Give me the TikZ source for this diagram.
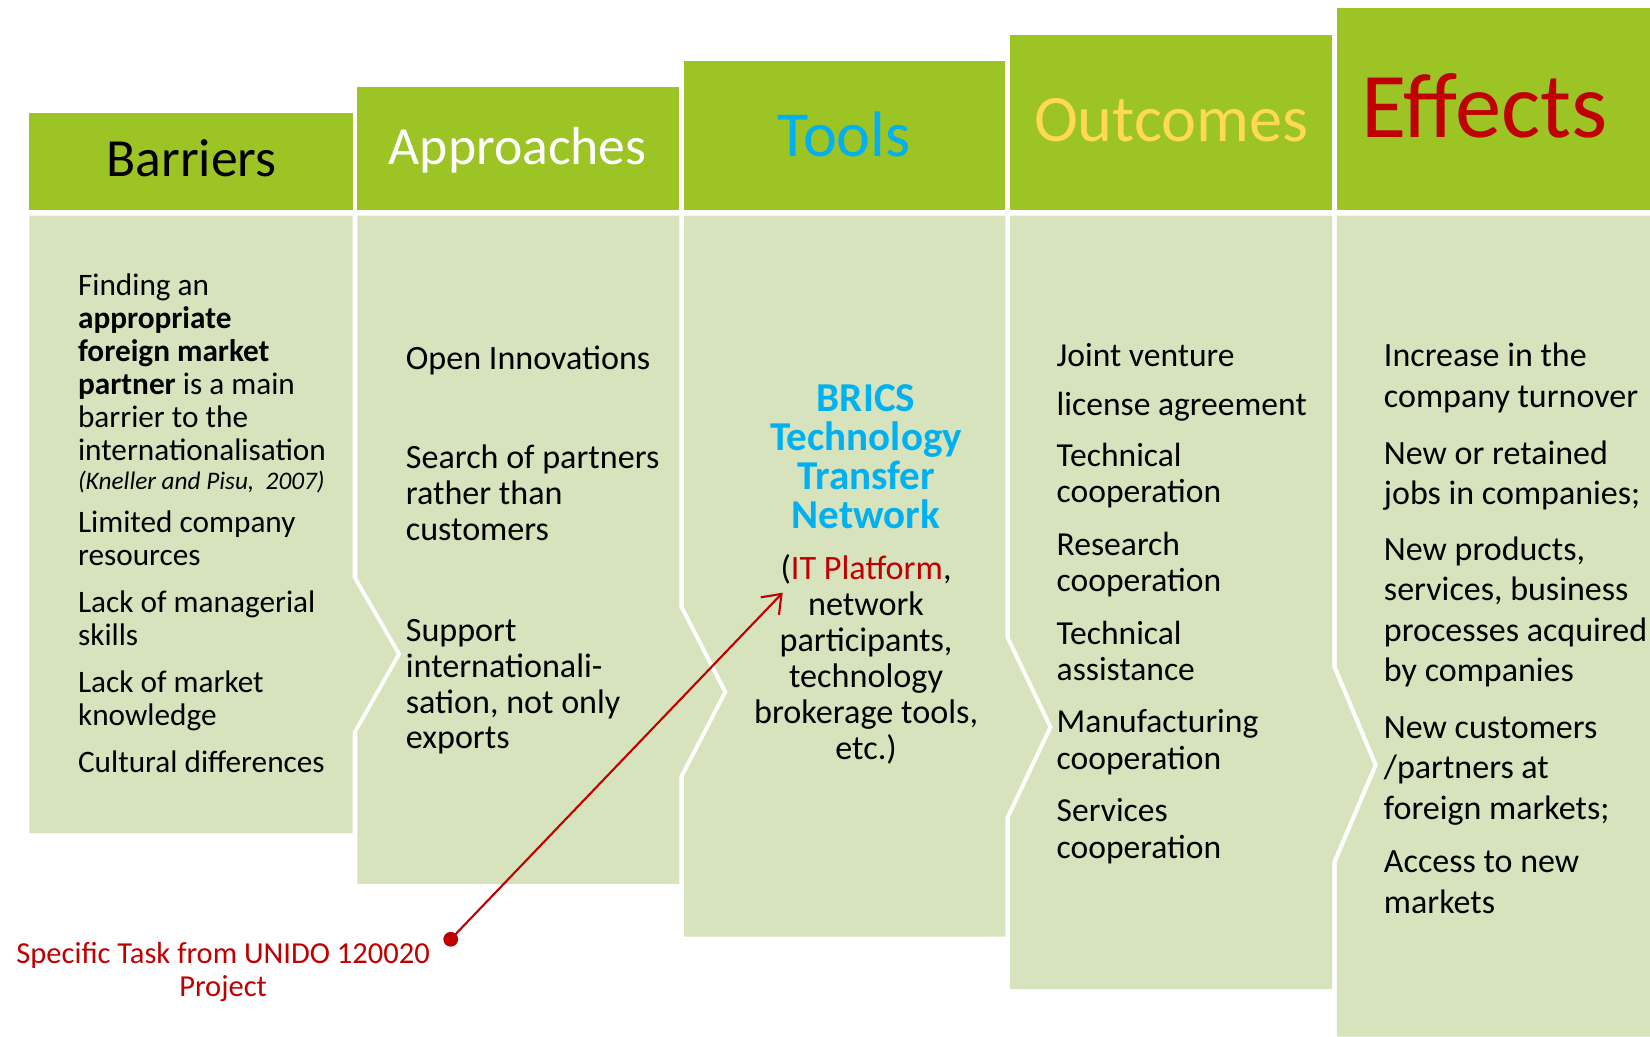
\documentclass[tikz,border=0pt]{standalone}
\usepackage{fontspec}
\setmainfont{Carlito}
\usetikzlibrary{arrows.meta}
\definecolor{hdrgreen}{HTML}{9BC424}
\definecolor{bodygreen}{HTML}{D6E3BC}
\definecolor{toolcyan}{HTML}{00B0F0}
\definecolor{outyellow}{HTML}{FFD856}
\definecolor{effred}{HTML}{C00000}
\newcommand{\mycolsetup}[2]{\fontsize{#1}{#2}\selectfont\lineskiplimit=-\maxdimen\lineskip=0pt\parindent=0pt}
\newcommand{\bricsline}[1]{{\bfseries\color{toolcyan}\fontsize{39}{39}\selectfont #1}}
\tikzset{
  bodyshape/.style={fill=bodygreen},
  hdrshape/.style={fill=hdrgreen},
  coltext/.style={anchor=base west, inner sep=0pt},
  ctrtext/.style={anchor=base, inner sep=0pt},
  hdrtext/.style={anchor=base, inner sep=0pt},
  pointer/.style={effred, line width=2pt, -{Straight Barb[length=16pt,width=24pt]}}
}
\begin{document}
\begin{tikzpicture}[x=1pt,y=-1pt]
\useasboundingbox (0,0) rectangle (1568,985);
% bodies
\fill[bodyshape] (28,205) -- (335,205) -- (335,549) -- (377,621.5) -- (335,695.6) -- (335,792) -- (28,792) -- cycle;
\fill[bodyshape] (339.5,205) -- (645.5,205) -- (645.5,577) -- (687,657.6) -- (645.5,737.5) -- (645.5,840) -- (339.5,840) -- (339.5,695.6) -- (381.5,621.5) -- (339.5,549) -- cycle;
\fill[bodyshape] (650,205) -- (955.5,205) -- (955.5,606.3) -- (996,690.9) -- (955.5,776.4) -- (955.5,890) -- (650,890) -- (650,737.5) -- (691.5,657.6) -- (650,577) -- cycle;
\fill[bodyshape] (960,205) -- (1266,205) -- (1266,633.8) -- (1305,727) -- (1266,819) -- (1266,940) -- (960,940) -- (960,776.4) -- (1000.5,690.9) -- (960,606.3) -- cycle;
\fill[bodyshape] (1270.5,205) -- (1568,205) -- (1568,985) -- (1270.5,985) -- (1270.5,819) -- (1309.5,727) -- (1270.5,633.8) -- cycle;
% headers
\fill[hdrshape] (28,107) rectangle (335,200);
\fill[hdrshape] (339.5,83) rectangle (645.5,200);
\fill[hdrshape] (650,58) rectangle (955.5,200);
\fill[hdrshape] (960,33) rectangle (1266,200);
\fill[hdrshape] (1270.5,8) rectangle (1568,200);
% header texts
\node[hdrtext, font=\fontsize{51}{51}\selectfont] (hbar) at (182,168) {Barriers};
\node[hdrtext, font=\fontsize{51}{51}\selectfont, text=white] (happ) at (492,156) {Approaches};
\node[hdrtext, font=\fontsize{61}{61}\selectfont, text=toolcyan] (htool) at (802,148.3) {Tools};
\node[hdrtext, font=\fontsize{63}{63}\selectfont, text=outyellow] (hout) at (1113,134.6) {Outcomes};
\node[hdrtext, font=\fontsize{88}{88}\selectfont, text=effred] (heff) at (1411,130.5) {Effects};
% barriers text
\node[coltext] (bartext) at (74,281) {\parbox[t]{300pt}{\raggedright\mycolsetup{29.7}{31.4}%
Finding an\\
\textbf{appropriate}\\
\textbf{foreign market}\\
\textbf{partner} is a main\\
barrier to the\\
internationalisation\\[-3.9pt]
{\itshape\fontsize{24}{24}\selectfont (Kneller and Pisu,\ \ 2007)}\\[9.1pt]
Limited company\\
resources\\[13.3pt]
Lack of managerial\\
skills\\[13.3pt]
Lack of market\\
knowledge\\[13.3pt]
Cultural differences}};
% approaches text
\node[coltext] (apptext) at (385.5,351.6) {\parbox[t]{300pt}{\raggedright\mycolsetup{32.4}{34}%
Open Innovations\\[60pt]
Search of partners\\
rather than\\
customers\\[62pt]
Support\\
internationali-\\
sation, not only\\
exports}};
% tools text
\node[ctrtext] (tooltext) at (823,391.5) {\parbox[t]{300pt}{\centering\mycolsetup{32.5}{34.3}\leavevmode
\bricsline{BRICS}\\[2.5pt]
\bricsline{Technology}\\[2.5pt]
\bricsline{Transfer}\\[2.5pt]
\bricsline{Network}\\[14.5pt]
(\textcolor{effred}{IT Platform},\\
network\\
participants,\\
technology\\
brokerage tools,\\
etc.)}};
% outcomes text
\node[coltext] (outtext) at (1004,348) {\parbox[t]{300pt}{\raggedright\mycolsetup{31.9}{34.5}%
Joint venture\\[12.5pt]
license agreement\\[13.5pt]
Technical\\
cooperation\\[15.5pt]
Research\\
cooperation\\[15.5pt]
Technical\\
assistance\\[15.5pt]
Manufacturing\\
cooperation\\[15.5pt]
Services\\
cooperation}};
% effects text
\node[coltext] (efftext) at (1315,348.5) {\parbox[t]{300pt}{\raggedright\mycolsetup{32.3}{38.5}%
Increase in the\\
company turnover\\[15.5pt]
New or retained\\
jobs in companies;\\[14.5pt]
New products,\\
services, business\\
processes acquired\\
by companies\\[15pt]
New customers\\
/partners at\\
foreign markets;\\[12.5pt]
Access to new\\
markets}};
% task label and pointer
\node[ctrtext] (task) at (212,915.5) {\parbox[t]{450pt}{\centering\mycolsetup{29}{31.5}\leavevmode\color{effred}%
Specific Task from UNIDO 120020\\
Project}};
\node[circle, fill=effred, inner sep=0pt, minimum size=14pt] (dot) at (428.3,892.6) {};
\coordinate (ittip) at (743.8,563.2);
\draw[pointer] (dot.center) -- (ittip);
\end{tikzpicture}
\end{document}
